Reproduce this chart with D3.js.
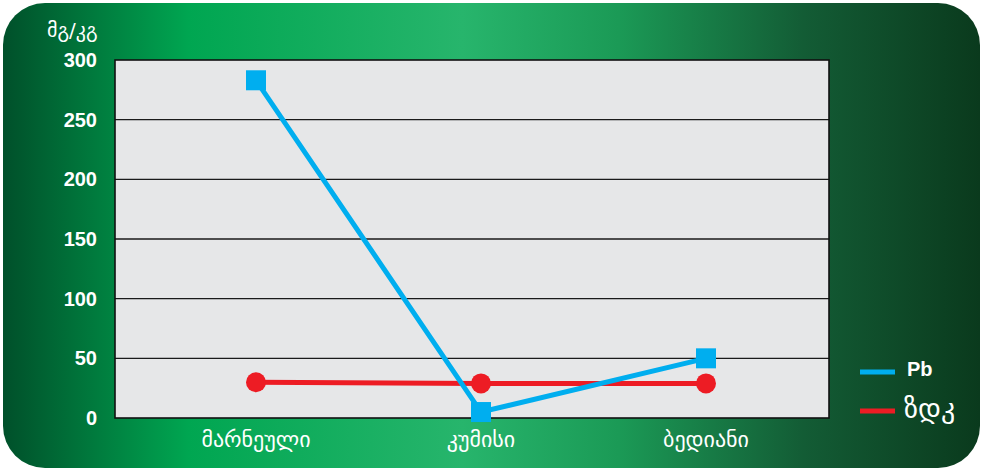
<!DOCTYPE html>
<html>
<head>
<meta charset="utf-8">
<script src="https://cdn.jsdelivr.net/npm/d3@7"></script>
<style>
  body { margin: 0; background: #fff; }
  svg { display: block; }
</style>
</head>
<body>
<div id="chart"></div>
<script>
// chart data
var categories = ['მარნეული', 'კუმისი', 'ბედიანი'];
var pbValues = [283, 5, 50];
var zdkValues = [30, 29, 29];
var yTicks = [0, 50, 100, 150, 200, 250, 300];
var yTitle = 'მგ/კგ';
var seriesNames = ['Pb', 'ზდკ'];

var W = 982, H = 470;
var plot = {left: 115, right: 829, top: 60, bottom: 418};
var geoFont = "'DejaVu Sans', sans-serif";
var numFont = "Arial, 'Liberation Sans', sans-serif";

var svg = d3.select('#chart').append('svg').attr('width', W).attr('height', H);

// background gradient
var defs = svg.append('defs');
var grad = defs.append('linearGradient').attr('id', 'bg').attr('x1', '0%').attr('x2', '100%').attr('y1', '0%').attr('y2', '0%');
[[0, '#00502a'], [0.19, '#00a651'], [0.47, '#27b56c'], [0.63, '#1b9a56'], [0.82, '#135c35'], [1, '#0a3a1d']].forEach(function(s){
  grad.append('stop').attr('offset', s[0]).attr('stop-color', s[1]);
});
svg.append('rect').attr('x', 3).attr('y', 3).attr('width', 977).attr('height', 465)
  .attr('rx', 42).attr('ry', 42).attr('fill', 'url(#bg)');

var x = d3.scalePoint().domain(categories).range([256, 706]);
var y = d3.scaleLinear().domain([0, 300]).range([plot.bottom, plot.top]);

// plot area
svg.append('rect').attr('x', plot.left).attr('y', plot.top)
  .attr('width', plot.right - plot.left).attr('height', plot.bottom - plot.top)
  .attr('fill', '#e6e7e8');

svg.append('g').selectAll('line').data(yTicks.slice(1, -1)).enter().append('line')
  .attr('x1', plot.left).attr('x2', plot.right)
  .attr('y1', function(d){ return y(d); }).attr('y2', function(d){ return y(d); })
  .attr('stroke', '#1a1a1a').attr('stroke-width', 1.3);

svg.append('rect').attr('x', plot.left).attr('y', plot.top)
  .attr('width', plot.right - plot.left).attr('height', plot.bottom - plot.top)
  .attr('fill', 'none').attr('stroke', '#111').attr('stroke-width', 1.6);

// y tick labels
svg.append('g').selectAll('text').data(yTicks).enter().append('text')
  .attr('x', 97).attr('y', function(d){ return y(d) + 7; })
  .attr('text-anchor', 'end').attr('fill', '#fff')
  .style('font-family', numFont).style('font-weight', 'bold').style('font-size', '20px')
  .text(function(d){ return d; });

svg.append('text').attr('x', 47).attr('y', 37).attr('fill', '#fff')
  .style('font-family', geoFont).style('font-size', '20px').text(yTitle);

// x labels
svg.append('g').selectAll('text').data(categories).enter().append('text')
  .attr('x', function(d){ return x(d); }).attr('y', 447)
  .attr('text-anchor', 'middle').attr('fill', '#fff')
  .style('font-family', geoFont).style('font-size', '22px')
  .text(function(d){ return d; });

var line = d3.line().x(function(d, i){ return x(categories[i]); }).y(function(d){ return y(d); });

// ზდკ series
svg.append('path').datum(zdkValues).attr('d', line)
  .attr('fill', 'none').attr('stroke', '#ed1c24').attr('stroke-width', 5);
svg.append('g').selectAll('circle').data(zdkValues).enter().append('circle')
  .attr('cx', function(d, i){ return x(categories[i]); }).attr('cy', function(d){ return y(d); })
  .attr('r', 10).attr('fill', '#ed1c24');

// Pb series
svg.append('path').datum(pbValues).attr('d', line)
  .attr('fill', 'none').attr('stroke', '#00aeef').attr('stroke-width', 5);
svg.append('g').selectAll('rect').data(pbValues).enter().append('rect')
  .attr('x', function(d, i){ return x(categories[i]) - 10; }).attr('y', function(d){ return y(d) - 10; })
  .attr('width', 20).attr('height', 20).attr('fill', '#00aeef');

// legend
var legendColors = ['#00aeef', '#ed1c24'];
var lg = svg.append('g').selectAll('g').data(seriesNames).enter().append('g')
  .attr('transform', function(d, i){ return 'translate(860,' + (372 + i * 39) + ')'; });
lg.append('rect').attr('x', 0).attr('y', -2.5).attr('width', 35).attr('height', 5)
  .attr('fill', function(d, i){ return legendColors[i]; });
lg.append('text').attr('x', function(d, i){ return i ? 44 : 47; }).attr('y', function(d, i){ return i ? 7 : 4; })
  .attr('fill', '#fff')
  .style('font-family', function(d, i){ return i ? geoFont : numFont; })
  .style('font-weight', function(d, i){ return i ? 'normal' : 'bold'; })
  .style('font-size', function(d, i){ return i ? '28px' : '20px'; })
  .text(function(d){ return d; });
</script>
</body>
</html>
